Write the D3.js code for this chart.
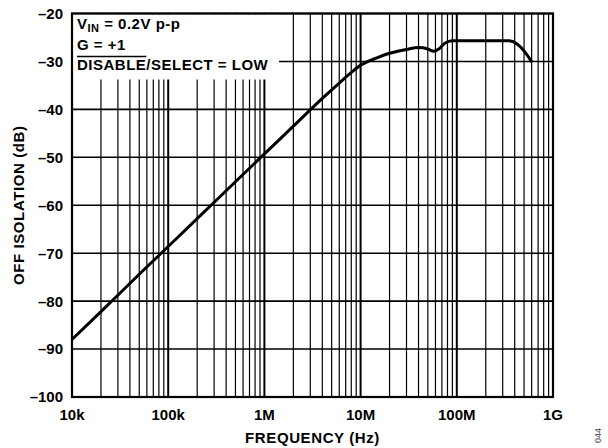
<!DOCTYPE html>
<html>
<meta charset="utf-8">
<style>
body{ margin:0; padding:0; background:#fff; }
svg text{ font-family:"Liberation Sans", Arial, sans-serif; font-weight:bold; fill:#000; font-size:15px; }
</style>
<body>
<svg width="608" height="448"></svg>
<script src="https://d3js.org/d3.v7.min.js"></script>
<script>

// off isolation curve
var freqs = [1e4, 2e4, 5e4, 1e5, 2e5, 5e5, 1e6, 2e6, 4e6, 6e6, 8e6, 1e7, 1.5e7, 2e7, 3e7, 4e7, 5e7, 5.8e7, 6.5e7, 7.5e7, 9e7, 1e8, 2e8, 3.5e8, 4.2e8, 5e8, 6e8];
var isolation = [-88, -82.2, -74.4, -68.6, -62.8, -55.1, -49.3, -43.5, -37.7, -34.5, -32.3, -30.8, -29.2, -28.3, -27.5, -27.1, -27.4, -27.9, -27.4, -26.2, -25.7, -25.7, -25.7, -25.7, -26.3, -27.8, -30.1];

var xTicks = [1e4, 1e5, 1e6, 1e7, 1e8, 1e9];
var xTickLabels = ["10k", "100k", "1M", "10M", "100M", "1G"];
var yTicks = [-100, -90, -80, -70, -60, -50, -40, -30, -20];

var svg = d3.select("svg"),
    pl = 72, pr = 553, pt = 13.5, pb = 397;

var x = d3.scaleLog().domain([1e4, 1e9]).range([pl, pr]);
var y = d3.scaleLinear().domain([-100, -20]).range([pb, pt]);

// minor grid: 2..9 per decade
var minor = [];
for (var d = 4; d < 9; d++) {
  for (var k = 2; k <= 9; k++) minor.push(k * Math.pow(10, d));
}

var grid = svg.append("g");
grid.selectAll(".minor").data(minor).enter().append("line")
    .attr("x1", function(d) { return x(d); }).attr("x2", function(d) { return x(d); })
    .attr("y1", pt).attr("y2", pb)
    .attr("stroke", "#000").attr("stroke-width", 1.2);
grid.selectAll(".major").data(xTicks).enter().append("line")
    .attr("x1", function(d) { return x(d); }).attr("x2", function(d) { return x(d); })
    .attr("y1", pt).attr("y2", pb)
    .attr("stroke", "#000").attr("stroke-width", 2);
grid.selectAll(".hline").data(yTicks).enter().append("line")
    .attr("x1", pl).attr("x2", pr)
    .attr("y1", function(d) { return y(d); }).attr("y2", function(d) { return y(d); })
    .attr("stroke", "#000").attr("stroke-width", 1.6);

// white box behind the legend text
svg.append("rect")
    .attr("x", pl + 1).attr("y", pt + 1)
    .attr("width", 206).attr("height", 65)
    .attr("fill", "#fff");

svg.append("rect")
    .attr("x", pl).attr("y", pt)
    .attr("width", pr - pl).attr("height", pb - pt)
    .attr("fill", "none").attr("stroke", "#000").attr("stroke-width", 2.2);

var line = d3.line()
    .x(function(d) { return x(d[0]); })
    .y(function(d) { return y(d[1]); })
    .curve(d3.curveMonotoneX);

svg.append("path")
    .datum(d3.zip(freqs, isolation))
    .attr("d", line)
    .attr("fill", "none").attr("stroke", "#000").attr("stroke-width", 3);

// tick labels
svg.selectAll(".ylab").data(yTicks).enter().append("text")
    .attr("x", 63).attr("y", function(d) { return y(d); })
    .attr("dy", "0.36em")
    .attr("text-anchor", "end")
    .text(function(d) { return "\u2013" + Math.abs(d); });

svg.selectAll(".xlab").data(xTicks).enter().append("text")
    .attr("x", function(d) { return x(d); }).attr("y", 420)
    .attr("text-anchor", "middle")
    .text(function(d, i) { return xTickLabels[i]; });

svg.append("text")
    .attr("x", (pl + pr) / 2).attr("y", 443)
    .attr("text-anchor", "middle")
    .style("letter-spacing", "0.6px")
    .text("FREQUENCY (Hz)");

svg.append("text")
    .attr("transform", "translate(24," + (pt + pb) / 2 + ") rotate(-90)")
    .attr("text-anchor", "middle")
    .style("letter-spacing", "0.6px")
    .text("OFF ISOLATION (dB)");

svg.append("text")
    .attr("transform", "translate(601,443) rotate(-90)")
    .style("font-size", "9px").style("font-weight", "normal").style("fill", "#444")
    .text("044");

// legend text
var t1 = svg.append("text").attr("x", 77).attr("y", 28.5).style("letter-spacing", "0.5px");
t1.append("tspan").text("V");
t1.append("tspan").attr("dy", 3).style("font-size", "11px").text("IN");
t1.append("tspan").attr("dy", -3).text(" = 0.2V p-p");

svg.append("text").attr("x", 77).attr("y", 49.5).style("letter-spacing", "0.5px").text("G = +1");

var t3 = svg.append("text").attr("x", 77).attr("y", 70).style("letter-spacing", "0.5px")
    .text("DISABLE/SELECT = LOW");
var w = t3.node().getSubStringLength(0, 7);
svg.append("line")
    .attr("x1", 77).attr("x2", 77 + w)
    .attr("y1", 56.5).attr("y2", 56.5)
    .attr("stroke", "#000").attr("stroke-width", 1.3);

</script>
</body>
</html>
